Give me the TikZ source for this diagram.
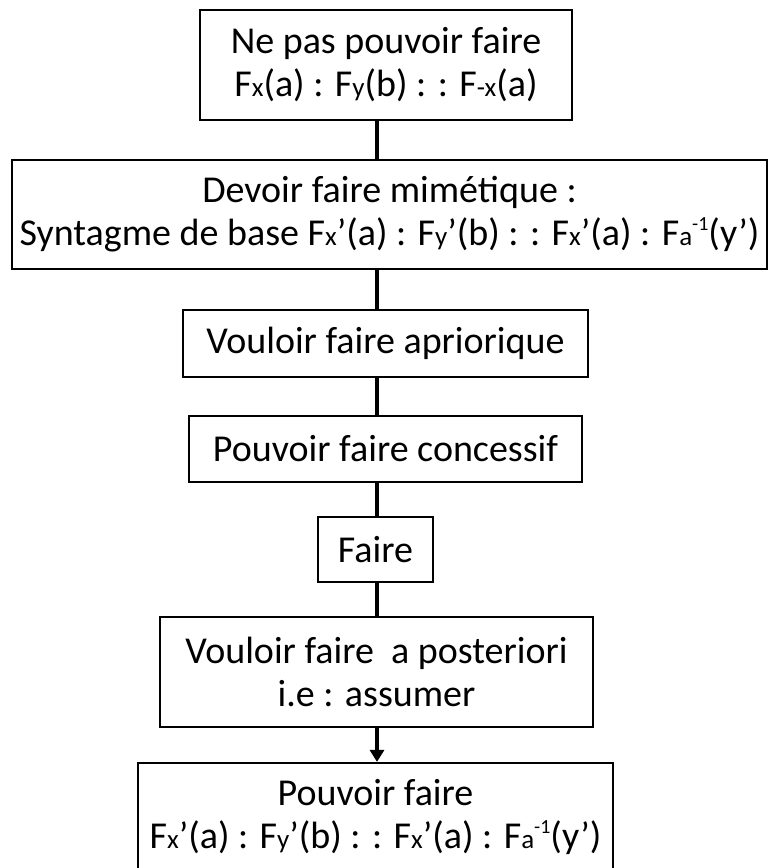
\documentclass[tikz,border=0pt]{standalone}
\usepackage{fontspec}
\setmainfont{Carlito}
\usetikzlibrary{arrows.meta}
\newcommand{\pt}[1]{{\fontsize{27}{27}\selectfont #1}}
\newcommand{\expo}[1]{\raisebox{0.4em}{\fontsize{20}{20}\selectfont #1}}
\tikzset{
  etape/.style={draw, line width=2.2pt, align=center, inner sep=0pt,
    font=\fontsize{38}{43}\selectfont},
  lien/.style={line width=3.5pt}
}
\begin{document}
\begin{tikzpicture}[x=1pt, y=1pt]
    \useasboundingbox (0,0) rectangle (768,-868);
    \coordinate (axe) at (377,0);

    \node[etape, minimum width=372, minimum height=110] (nepas) at (386,-65)
      {Ne pas pouvoir faire\\F\pt{x}(a) : F\pt{y}(b) : : F\pt{-x}(a)};
    \node[etape, minimum width=755, minimum height=109] (devoir) at (389.5,-214.5)
      {Devoir faire mimétique :\\Syntagme de base F\pt{x}’(a) : F\pt{y}’(b) : : F\pt{x}’(a) : F\pt{a}\expo{-1}(y’)};
    \node[etape, minimum width=405, minimum height=67] (vouloir) at (385.5,-343.5)
      {Vouloir faire apriorique};
    \node[etape, minimum width=393, minimum height=66] (concessif) at (385.5,-449)
      {Pouvoir faire concessif};
    \node[etape, minimum width=115, minimum height=65] (faire) at (375.5,-549.5)
      {Faire};
    \node[etape, minimum width=433, minimum height=110] (assumer) at (376.5,-672)
      {Vouloir faire\ \ a posteriori\\i.e : assumer};
    \node[etape, minimum width=475, minimum height=108] (pouvoir) at (375.5,-817)
      {Pouvoir faire\\F\pt{x}’(a) : F\pt{y}’(b) : : F\pt{x}’(a) : F\pt{a}\expo{-1}(y’)};

    \draw[lien] (nepas.south -| axe) -- (devoir.north -| axe);
    \draw[lien] (devoir.south -| axe) -- (vouloir.north -| axe);
    \draw[lien] (vouloir.south -| axe) -- (concessif.north -| axe);
    \draw[lien] (concessif.south -| axe) -- (faire.north -| axe);
    \draw[lien] (faire.south -| axe) -- (assumer.north -| axe);
    \draw[lien, -{Triangle[width=14pt, length=12pt]}] (assumer.south -| axe) -- (pouvoir.north -| axe);
\end{tikzpicture}
\end{document}
